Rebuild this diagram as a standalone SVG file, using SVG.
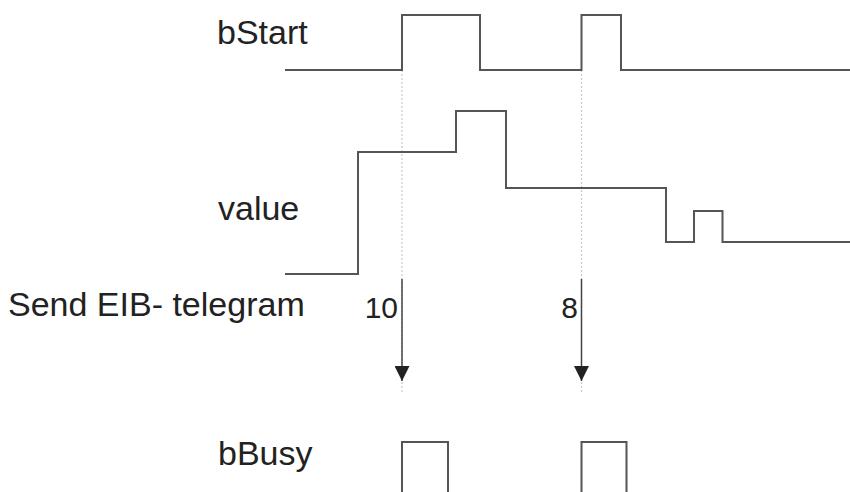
<svg xmlns="http://www.w3.org/2000/svg" width="850" height="492" viewBox="0 0 850 492">
<style>
.lbl{font-family:"Liberation Sans",Arial,sans-serif;font-size:34px;fill:#222}
.num{font-family:"Liberation Sans",Arial,sans-serif;font-size:30px;fill:#222}
.sig{fill:none;stroke:#555;stroke-width:2}
.guide{fill:none;stroke:#c8c8c8;stroke-width:1.2;stroke-dasharray:2 2}
.arr{fill:none;stroke:#444;stroke-width:1.5}
</style>
<defs>
<marker id="ah" markerWidth="15" markerHeight="15" refX="15" refY="7.5" orient="auto" markerUnits="userSpaceOnUse" viewBox="0 0 15 15">
<path d="M0,0 L15,7.5 L0,15 Z" fill="#222"/>
</marker>
</defs>
<rect width="850" height="492" fill="#fff"/>
<g id="guides">
<line class="guide" x1="402" y1="70" x2="402" y2="392"/>
<line class="guide" x1="581.5" y1="70" x2="581.5" y2="392"/>
</g>
<g id="bStart">
<text class="lbl" x="217" y="44">bStart</text>
<polyline class="sig" points="285,70 402,70 402,15 480,15 480,70 581.5,70 581.5,15 621,15 621,70 850,70"/>
</g>
<g id="value">
<text class="lbl" x="218" y="220">value</text>
<polyline class="sig" points="285,274 358,274 358,152 456,152 456,111 506,111 506,188 666,188 666,242 694,242 694,211 722.5,211 722.5,242 850,242"/>
</g>
<g id="send">
<text class="lbl" x="8" y="316">Send EIB- telegram</text>
<text class="num" x="398" y="318" text-anchor="end">10</text>
<text class="num" x="578" y="318" text-anchor="end">8</text>
</g>
<g id="bBusy">
<text class="lbl" x="218" y="465">bBusy</text>
<polyline class="sig" points="402,493 402,442 448,442 448,493"/>
<polyline class="sig" points="581.5,493 581.5,442 626.5,442 626.5,493"/>
</g>
<g id="connectors">
<line class="arr" x1="402" y1="279" x2="402" y2="381" marker-end="url(#ah)"/>
<line class="arr" x1="581.5" y1="279" x2="581.5" y2="381" marker-end="url(#ah)"/>
</g>
</svg>
